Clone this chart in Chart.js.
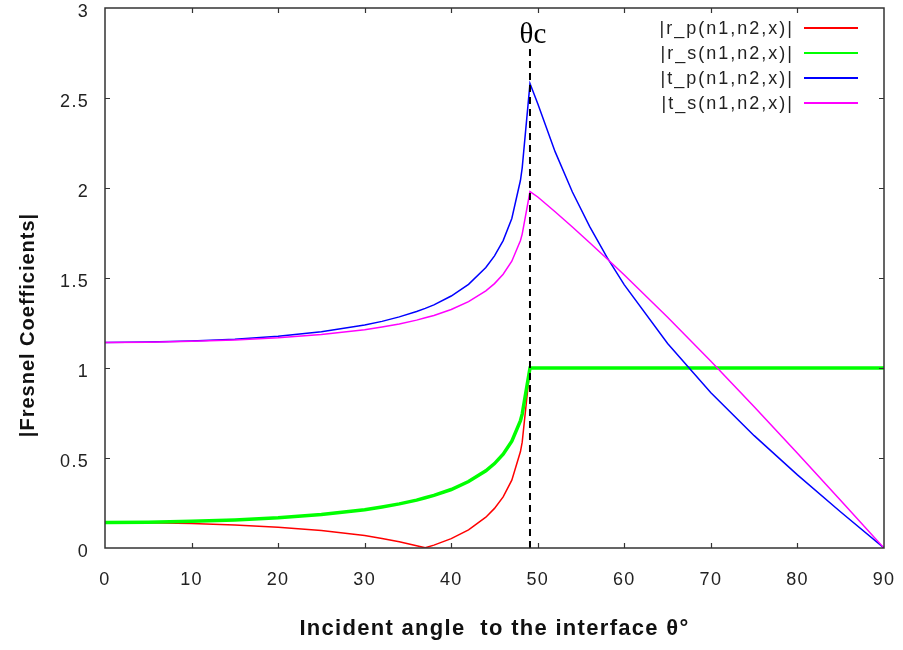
<!DOCTYPE html>
<html>
<head>
<meta charset="utf-8">
<script src="https://cdn.jsdelivr.net/npm/chart.js@4.4.1/dist/chart.umd.min.js"></script>
<style>
  html, body { margin: 0; padding: 0; background: #fff; }
  #wrap { width: 903px; height: 650px; }
</style>
</head>
<body>
<div id="wrap"><canvas id="fresnelChart"></canvas></div>
<script>
// Angles (degrees)
const angles = [0, 5, 10, 15, 20, 25, 30, 32, 34, 36, 37, 38, 40, 42, 44, 45, 46, 47, 48, 48.2, 49.1,
    50, 52, 54, 56, 58, 60, 65, 70, 75, 80, 85, 90];
const rP = [0.142, 0.140, 0.136, 0.128, 0.115, 0.097, 0.069, 0.053, 0.035, 0.012, 0.001, 0.016, 0.052, 0.101, 0.171, 0.220, 0.284, 0.377, 0.536, 0.588, 1,
    1, 1, 1, 1, 1, 1, 1, 1, 1, 1, 1, 1];
const rS = [0.142, 0.143, 0.148, 0.156, 0.168, 0.186, 0.213, 0.228, 0.245, 0.266, 0.279, 0.292, 0.325, 0.369, 0.429, 0.469, 0.521, 0.593, 0.708, 0.744, 1,
    1, 1, 1, 1, 1, 1, 1, 1, 1, 1, 1, 1];
const tP = [1.142, 1.144, 1.150, 1.160, 1.177, 1.202, 1.239, 1.259, 1.284, 1.314, 1.331, 1.351, 1.400, 1.465, 1.558, 1.623, 1.708, 1.831, 2.043, 2.112, 2.58,
    2.468, 2.202, 1.978, 1.785, 1.614, 1.462, 1.136, 0.863, 0.624, 0.406, 0.200, 0];
const tS = [1.142, 1.143, 1.148, 1.156, 1.168, 1.186, 1.213, 1.228, 1.245, 1.266, 1.279, 1.292, 1.325, 1.369, 1.429, 1.469, 1.521, 1.593, 1.708, 1.744, 1.98,
    1.950, 1.868, 1.783, 1.696, 1.607, 1.517, 1.282, 1.038, 0.785, 0.527, 0.264, 0];
const seriesLabels = ['|r_p(n1,n2,x)|', '|r_s(n1,n2,x)|', '|t_p(n1,n2,x)|', '|t_s(n1,n2,x)|'];
// critical angle marker
const criticalAngle = [49.1, 49.1];
const criticalLine = [0, 2.8];
const xTicks = [0, 10, 20, 30, 40, 50, 60, 70, 80, 90];
const yTicks = [0, 0.5, 1, 1.5, 2, 2.5, 3];

const toPoints = (ys) => angles.map((a, i) => ({ x: a, y: ys[i] }));

// slightly spaced text like the gnuplot output
const spacingPlugin = {
    id: 'spacing',
    beforeDraw(chart) { chart.ctx.letterSpacing = '1.3px'; },
    afterDraw(chart) { chart.ctx.letterSpacing = '0px'; }
};

// gnuplot-like frame with inward ticks, legend and theta_c label
const framePlugin = {
    id: 'frame',
    afterDatasetsDraw(chart) {
        const { ctx, chartArea: area, scales } = chart;
        ctx.save();
        ctx.strokeStyle = '#333';
        ctx.lineWidth = 1.5;
        ctx.strokeRect(area.left, area.top, area.right - area.left, area.bottom - area.top);
        ctx.lineWidth = 1.2;
        ctx.beginPath();
        xTicks.slice(1, -1).forEach(v => {
            const px = Math.round(scales.x.getPixelForValue(v)) + 0.5;
            ctx.moveTo(px, area.bottom); ctx.lineTo(px, area.bottom - 5);
            ctx.moveTo(px, area.top); ctx.lineTo(px, area.top + 5);
        });
        yTicks.slice(1, -1).forEach(v => {
            const py = Math.round(scales.y.getPixelForValue(v)) + 0.5;
            ctx.moveTo(area.left, py); ctx.lineTo(area.left + 5, py);
            ctx.moveTo(area.right, py); ctx.lineTo(area.right - 5, py);
        });
        ctx.stroke();

        // theta_c label above the dashed line
        ctx.letterSpacing = '0px';
        ctx.fillStyle = '#000';
        ctx.font = '29px "Liberation Serif", "DejaVu Serif", serif';
        ctx.textAlign = 'center';
        ctx.textBaseline = 'alphabetic';
        ctx.fillText('θc', scales.x.getPixelForValue(criticalAngle[0]) + 3, scales.y.getPixelForValue(criticalLine[1]) - 1);

        // legend, text right aligned with a line sample after it
        ctx.font = '18px "Liberation Sans", Arial, sans-serif';
        ctx.letterSpacing = '2px';
        ctx.textAlign = 'right';
        ctx.textBaseline = 'middle';
        chart.data.datasets.slice(0, 4).forEach((ds, i) => {
            const y = area.top + 20 + i * 25;
            ctx.fillStyle = '#222';
            ctx.fillText(ds.label, area.right - 90, y + 1);
            ctx.strokeStyle = ds.borderColor;
            ctx.lineWidth = 2;
            ctx.beginPath();
            ctx.moveTo(area.right - 80, y);
            ctx.lineTo(area.right - 26, y);
            ctx.stroke();
        });

        // y axis title
        ctx.fillStyle = '#111';
        ctx.font = 'bold 20px "Liberation Sans", Arial, sans-serif';
        ctx.letterSpacing = '1px';
        ctx.textAlign = 'center';
        ctx.translate(28, 325);
        ctx.rotate(-Math.PI / 2);
        ctx.fillText('|Fresnel Coefficients|', 0, 0);
        ctx.restore();
    }
};

const lineStyle = (color, width, order) => ({
    borderColor: color,
    backgroundColor: color,
    borderWidth: width,
    pointRadius: 0,
    showLine: true,
    fill: false,
    tension: 0,
    order: order,
});

const fresnelChart = new Chart(document.getElementById('fresnelChart').getContext('2d'), {
    type: 'scatter',
    data: {
        datasets: [
            { label: seriesLabels[0], data: toPoints(rP), ...lineStyle('#ff0000', 1.5, 5) },
            { label: seriesLabels[1], data: toPoints(rS), ...lineStyle('#00ff00', 3.5, 4) },
            { label: seriesLabels[2], data: toPoints(tP), ...lineStyle('#0000ff', 1.5, 3) },
            { label: seriesLabels[3], data: toPoints(tS), ...lineStyle('#ff00ff', 1.5, 2) },
            {
                label: 'critical',
                data: criticalAngle.map((a, i) => ({ x: a, y: criticalLine[i] })),
                ...lineStyle('#000', 2, 1),
                borderDash: [7, 5],
            },
        ]
    },
    options: {
        responsive: true,
        maintainAspectRatio: false,
        animation: false,
        layout: { padding: { top: 8, right: 19, left: 0, bottom: 0 } },
        scales: {
            x: {
                type: 'linear',
                min: 0,
                max: 90,
                afterFit: (s) => { s.height = 102; s.paddingLeft = 0; s.paddingRight = 0; },
                afterBuildTicks: (s) => { s.ticks = xTicks.map(v => ({ value: v })); },
                grid: { display: false },
                border: { display: false },
                ticks: {
                    padding: 13,
                    color: '#222',
                    font: { family: '"Liberation Sans", Arial, sans-serif', size: 18 },
                    callback: (v) => String(v),
                },
                title: {
                    display: true,
                    text: 'Incident angle  to the interface θ°',
                    color: '#111',
                    font: { family: '"Liberation Sans", Arial, sans-serif', size: 22, weight: 'bold' },
                    padding: { top: 0, bottom: 8 },
                },
            },
            y: {
                min: 0,
                max: 3,
                afterFit: (s) => { s.width = 105; s.paddingTop = 0; s.paddingBottom = 0; },
                afterBuildTicks: (s) => { s.ticks = yTicks.map(v => ({ value: v })); },
                grid: { display: false },
                border: { display: false },
                ticks: {
                    padding: 8,
                    labelOffset: 4,
                    color: '#222',
                    font: { family: '"Liberation Sans", Arial, sans-serif', size: 18 },
                    callback: (v) => String(v),
                },
            }
        },
        plugins: {
            legend: { display: false },
            tooltip: { enabled: false },
        },
    },
    plugins: [spacingPlugin, framePlugin]
});
</script>
</body>
</html>
